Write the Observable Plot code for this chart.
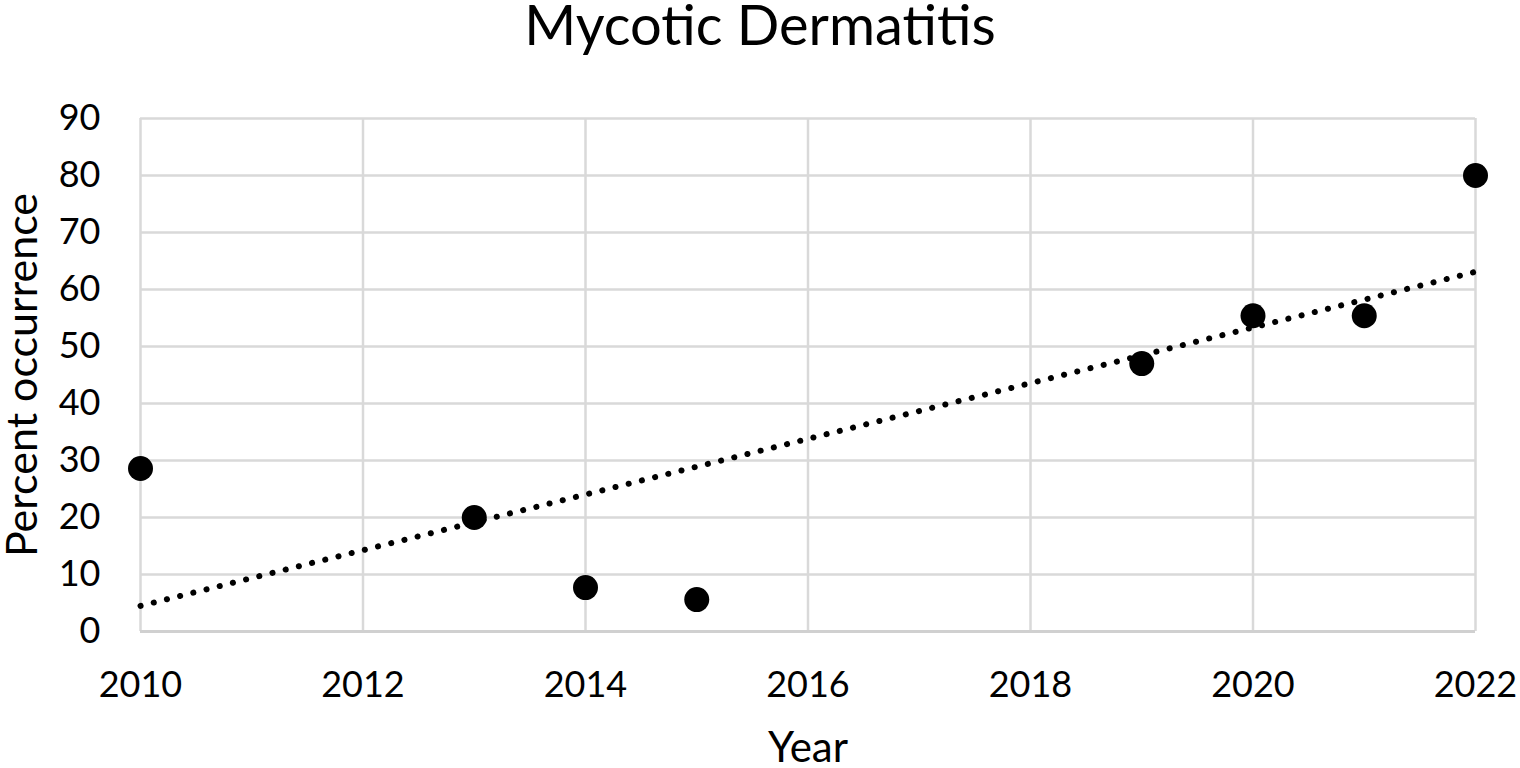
<!DOCTYPE html>
<html>
<head>
<meta charset="utf-8">
<script src="https://cdn.jsdelivr.net/npm/d3@7"></script>
<script src="https://cdn.jsdelivr.net/npm/@observablehq/plot@0.6"></script>
<style>
  body { margin: 0; background: #fff; font-family: Lato, "Open Sans", sans-serif; }
  #title { height: 70px; position: relative; overflow: visible; }
  #title svg { position: absolute; left: 0; top: 0; overflow: visible; }
</style>
</head>
<body>
<div id="title"><svg width="1520" height="70"><text x="760" y="45" text-anchor="middle" font-family="Lato, 'Open Sans', sans-serif" font-size="56" fill="#000">Mycotic Dermatitis</text></svg></div>
<div id="chart"></div>
<script>
const years = [2010, 2013, 2014, 2015, 2019, 2020, 2021, 2022];
const percents = [28.6, 20.0, 7.7, 5.6, 47.0, 55.4, 55.4, 80.0];
const xTicks = [2010, 2012, 2014, 2016, 2018, 2020, 2022];
const yTicks = [0, 10, 20, 30, 40, 50, 60, 70, 80, 90];

const data = years.map((y, i) => ({year: y, pct: percents[i]}));

const chart = Plot.plot({
  width: 1520,
  height: 698,
  marginTop: 48,
  marginBottom: 137,
  marginLeft: 140,
  marginRight: 45,
  style: {fontFamily: "Lato, 'Open Sans', sans-serif", fontSize: "36px", color: "#000", overflow: "visible"},
  x: {domain: [2010, 2022]},
  y: {domain: [0, 90]},
  marks: [
    Plot.gridX(xTicks, {stroke: "#d9d9d9", strokeOpacity: 1, strokeWidth: 2.5}),
    Plot.gridY(yTicks, {stroke: "#d9d9d9", strokeOpacity: 1, strokeWidth: 2.5}),
    Plot.ruleY([0], {stroke: "#d0d0d0", strokeWidth: 3}),
    Plot.axisX({ticks: xTicks, tickSize: 0, tickPadding: 40, tickFormat: d => String(d), label: null, fontSize: 36}),
    Plot.axisY({ticks: yTicks, tickSize: 0, tickPadding: 40, label: null, fontSize: 36}),
    Plot.linearRegressionY(data, {x: "year", y: "pct", ci: 0, stroke: "#000", strokeWidth: 6, strokeDasharray: "0.1 13.5", strokeLinecap: "round"}),
    Plot.dot(data, {x: "year", y: "pct", r: 12.5, fill: "#000", stroke: null}),
    Plot.text(["Year"], {frameAnchor: "bottom", dy: 117, fontSize: 42, fill: "#000", lineAnchor: "middle", textAnchor: "middle"}),
    Plot.text(["Percent occurrence"], {frameAnchor: "left", dx: -117, rotate: -90, fontSize: 43, fill: "#000", textAnchor: "middle", lineAnchor: "middle"})
  ]
});
document.getElementById("chart").appendChild(chart);
</script>
</body>
</html>
